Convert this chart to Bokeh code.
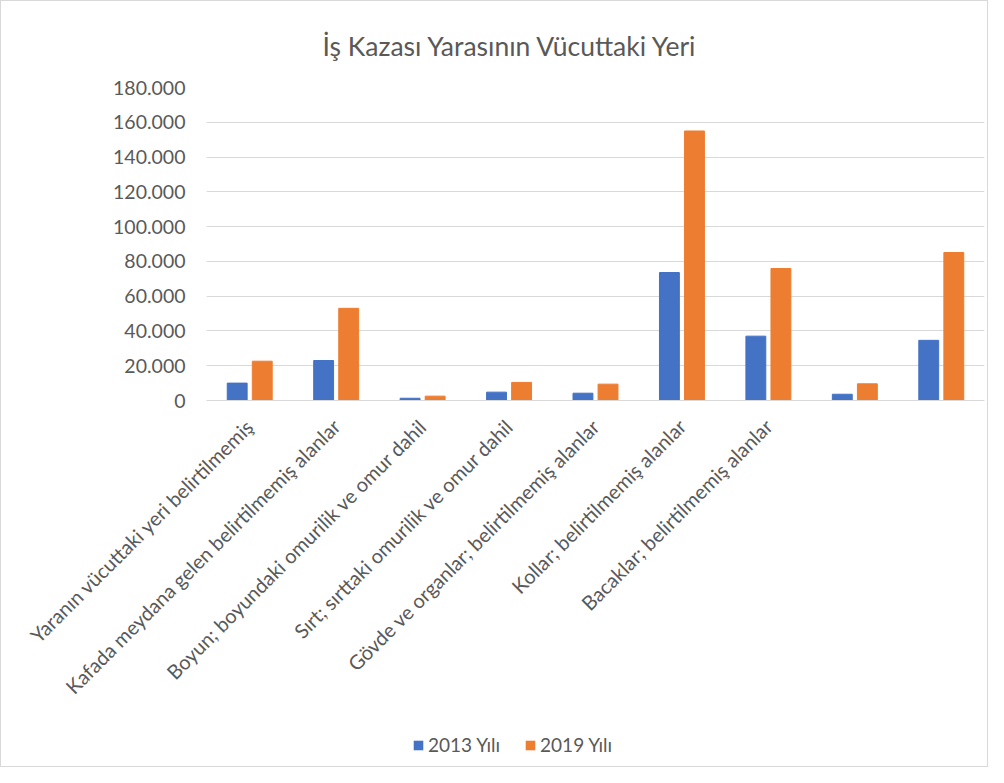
import math
from bokeh.plotting import figure
from bokeh.layouts import column
from bokeh.models import FixedTicker, Legend, LegendItem, Range1d
from bokeh.embed import file_html
from bokeh.resources import INLINE

title_text = "İş Kazası Yarasının Vücuttaki Yeri"
categories = [
    "Yaranın vücuttaki yeri belirtilmemiş",
    "Kafada meydana gelen belirtilmemiş alanlar",
    "Boyun; boyundaki omurilik ve omur dahil",
    "Sırt; sırttaki omurilik ve omur dahil",
    "Gövde ve organlar; belirtilmemiş alanlar",
    "Kollar; belirtilmemiş alanlar",
    "Bacaklar; belirtilmemiş alanlar",
    "",
    "",
]
series_names = ["2013 Yılı", "2019 Yılı"]
values_2013 = [10000, 23000, 1300, 4800, 4200, 73600, 37000, 3600, 34600]
values_2019 = [22600, 53000, 2500, 10400, 9400, 155000, 75900, 9600, 85100]
y_ticks = [0, 20000, 40000, 60000, 80000, 100000, 120000, 140000, 160000, 180000]
y_tick_labels = ["0", "20.000", "40.000", "60.000", "80.000", "100.000",
                 "120.000", "140.000", "160.000", "180.000"]

BLUE = "#4472C4"
ORANGE = "#ED7D31"
TEXT = "#595959"
GRID = "#D9D9D9"
FONT = "Lato"

xs = list(range(1, len(categories) + 1))

p = figure(width=986, height=725, output_backend="svg", toolbar_location=None,
           x_range=Range1d(0.5, len(categories) + 0.5), y_range=Range1d(0, 180000),
           min_border_left=205, min_border_right=3, min_border_top=84,
           min_border_bottom=326)
p.outline_line_color = None
p.background_fill_color = "white"
p.border_fill_color = "white"

p.title.text = title_text
p.title.align = "left"
p.title.offset = 116
p.title.standoff = 52
p.title.text_font = FONT
p.title.text_font_size = "26.5px"
p.title.text_font_style = "normal"
p.title.text_color = TEXT

off = 0.145
w = 0.23
p.vbar(x=[x - off for x in xs], top=values_2013, width=w, color=BLUE)
p.vbar(x=[x + off for x in xs], top=values_2019, width=w, color=ORANGE)

# y axis
p.yaxis.ticker = FixedTicker(ticks=y_ticks)
p.yaxis.major_label_overrides = {t: l for t, l in zip(y_ticks, y_tick_labels)}
p.yaxis.axis_line_color = None
p.yaxis.major_tick_line_color = None
p.yaxis.minor_tick_line_color = None
p.yaxis.major_label_text_font = FONT
p.yaxis.major_label_text_font_size = "19.5px"
p.yaxis.major_label_text_color = TEXT
p.yaxis.major_label_standoff = 15

# x axis
p.xaxis.ticker = FixedTicker(ticks=xs)
p.xaxis.major_label_overrides = {x: c for x, c in zip(xs, categories)}
p.xaxis.major_label_orientation = math.pi / 4
p.xaxis.axis_line_color = GRID
p.xaxis.major_tick_line_color = None
p.xaxis.minor_tick_line_color = None
p.xaxis.major_label_text_font = FONT
p.xaxis.major_label_text_font_size = "20px"
p.xaxis.major_label_text_color = TEXT
p.xaxis.major_label_standoff = 16

p.xgrid.grid_line_color = None
p.ygrid.grid_line_color = GRID
p.ygrid.ticker = FixedTicker(ticks=y_ticks)

# legend strip (separate small figure so the legend is not clipped)
lg = figure(width=986, height=40, output_backend="svg", toolbar_location=None,
            x_range=Range1d(0, 1), y_range=Range1d(0, 1),
            min_border_left=0, min_border_right=0, min_border_top=0,
            min_border_bottom=0)
lg.axis.visible = False
lg.grid.grid_line_color = None
lg.outline_line_color = None
lg.border_fill_color = "white"
# legend-only renderers: zero-height bars without outline (invisible in plot)
l1 = lg.vbar(x=[0.5], top=[0], bottom=[0], width=0.1, fill_color=BLUE, line_color=None)
l2 = lg.vbar(x=[0.5], top=[0], bottom=[0], width=0.1, fill_color=ORANGE, line_color=None)
legend = Legend(items=[LegendItem(label=series_names[0], renderers=[l1]),
                       LegendItem(label=series_names[1], renderers=[l2])],
                location=(206, 10), orientation="horizontal",
                glyph_width=12, glyph_height=12, label_standoff=4, spacing=24,
                padding=0, margin=0, border_line_color=None,
                background_fill_alpha=0,
                label_text_font=FONT, label_text_font_size="19px",
                label_text_color=TEXT)
lg.add_layout(legend, "center")

layout = column(p, lg, spacing=0)
layout.styles = {"border": "1px solid #D9D9D9"}

open("out.html", "w").write(file_html(layout, INLINE))
